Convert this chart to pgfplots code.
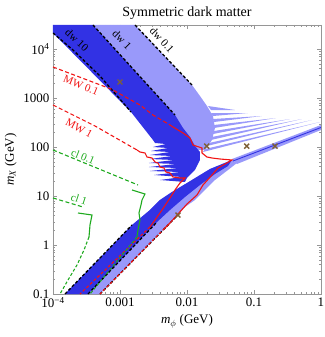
\documentclass[border=0pt]{standalone}
\usepackage{pgfplots}
\pgfplotsset{compat=1.18}
\usepackage{fontspec}
\setmainfont{Liberation Serif}
\definecolor{db}{RGB}{50,50,228}
\definecolor{lb}{RGB}{153,153,250}
\definecolor{brn}{RGB}{125,95,55}
\definecolor{gr}{RGB}{30,170,30}
\definecolor{rd}{RGB}{240,20,20}
\definecolor{frm}{RGB}{150,150,150}
\begin{document}
\begin{tikzpicture}
\begin{axis}[name=ax, scale only axis, width=268pt, height=269pt,
  xmode=log, ymode=log, xmin=1e-4, xmax=1, ymin=0.1, ymax=30890,
  axis line style={frm}, tick style={frm}, major tick length=4pt, minor tick length=2pt,
  tick align=inside,
  xtick={1e-4,1e-3,1e-2,1e-1,1}, xticklabels={10\textsuperscript{−4},0.001,0.01,0.1,1},
  ytick={0.1,1,10,100,1000,10000}, yticklabels={0.1,1,10,100,1000,10\textsuperscript{4}},
  ticklabel style={font=\fontsize{13}{15}\selectfont, text=black},
  title={Symmetric dark matter}, title style={font=\fontsize{14}{16}\selectfont, yshift=-4pt},
  xlabel={\textit{m}\textsubscript{$\phi$} (GeV)}, ylabel={\textit{m}\textsubscript{\textit{X}} (GeV)},
  label style={font=\fontsize{13}{15}\selectfont},
]
% ---------- light blue upper band ----------
\addplot[fill=lb, draw=none] coordinates {(3.954e-4,30890)(1.675e-3,30890)(1.188e-2,1842)(1.563e-2,1098)(1.988e-2,686.6)(2.444e-2,429.2)(2.617e-2,244.2)(2.361e-2,139.0)(1.857e-2,86.87)(9.335e-3,86.87)(6.622e-3,449.9)} -- cycle;
% fan streaks
\addplot[fill=lb, draw=none] coordinates {(2.058e-2,686.6)(2.281e-2,568.9)(5.205e-2,568.9)} -- cycle;
\addplot[fill=lb, draw=none] coordinates {(2.281e-2,494.1)(2.444e-2,429.2)(8.136e-2,494.1)} -- cycle;
\addplot[fill=lb, draw=none] coordinates {(2.444e-2,372.7)(2.529e-2,323.7)(0.1316,429.2)} -- cycle;
\addplot[fill=lb, draw=none] coordinates {(2.529e-2,281.2)(2.529e-2,244.2)(0.2130,390.6)} -- cycle;
\addplot[fill=lb, draw=none] coordinates {(2.529e-2,212.1)(2.444e-2,184.2)(0.3446,372.7)} -- cycle;
\addplot[fill=lb, draw=none] coordinates {(2.361e-2,160.0)(2.281e-2,139.0)(0.5205,372.7)} -- cycle;
\addplot[fill=lb, draw=none] coordinates {(2.130e-2,120.7)(1.988e-2,104.8)(0.7338,355.6)} -- cycle;
\addplot[fill=lb, draw=none] coordinates {(1.857e-2,91.04)(1.733e-2,79.07)(0.9663,323.7)} -- cycle;
% ---------- dark blue upper band with comb ----------
\addplot[fill=db, draw=none] coordinates {(1e-4,21210)(1e-4,30890)(3.954e-4,30890)(6.622e-3,449.9)(8.717e-3,244.2)(1.109e-2,160.0)(1.316e-2,104.8)(1.563e-2,79.07)(1.563e-2,54.28)(1.316e-2,33.93)(1.0e-2,23.30)(9.335e-3,19.31)
 (3.954e-3,21.21)(8.423e-3,24.42)(3.218e-3,26.83)(7.862e-3,30.89)(2.804e-3,32.37)(7.338e-3,37.27)(2.709e-3,39.06)(6.850e-3,44.99)(2.709e-3,47.15)(6.397e-3,54.28)(2.804e-3,56.89)(5.973e-3,65.51)(2.804e-3,68.66)(5.576e-3,79.07)(2.902e-3,82.88)(5.205e-3,95.41)(3.108e-3,100)(4.860e-3,115.1)(3.331e-3,120.7)
 (3.108e-3,139.0)(1.459e-3,517.9)} -- cycle;
% ---------- lower band ----------
\addplot[fill=lb, draw=none] coordinates {(1.511e-4,0.1)(1.511e-3,2.560)(2.804e-3,5.179)(3.954e-3,8.288)(5.973e-3,12.07)(1.0e-2,18.42)(2.204e-2,35.56)(4.696e-2,54.28)(5.576e-2,47.15)(4.092e-2,33.93)(2.617e-2,21.21)(1.857e-2,13.26)(1.316e-2,8.288)(9.335e-3,5.963)(7.338e-3,4.095)(5.029e-4,0.1)} -- cycle;
\addplot[fill=db, draw=none] coordinates {(1.511e-4,0.1)(1.511e-3,2.560)(2.804e-3,5.179)(3.954e-3,8.288)(5.973e-3,12.07)(1.0e-2,18.42)(2.204e-2,35.56)(4.696e-2,54.28)(4.092e-2,40.95)(2.617e-2,28.12)(1.563e-2,16.77)(9.335e-3,9.541)(5.576e-3,5.179)(3.566e-3,2.947)(3.331e-4,0.1)} -- cycle;
% thin continuation to the right
\addplot[fill=lb, draw=none] coordinates {(4.696e-2,56.89)(1,281.2)(1,222.3)(5.576e-2,44.99)} -- cycle;
\addplot[db, line width=0.9pt] coordinates {(4.860e-2,51.79)(1,250.0)};
% ---------- black dashed (dw) ----------
\addplot[black, line width=1.3pt, dash pattern=on 3pt off 2pt] coordinates {(1e-4,21210)(1.988e-4,9541)(5.029e-4,2812)(1.459e-3,517.9)};
\addplot[black, line width=1.3pt, dash pattern=on 3pt off 2pt] coordinates {(3.954e-4,30890)(6.622e-3,449.9)};
\addplot[black, line width=1.3pt, dash pattern=on 3pt off 2pt] coordinates {(1.675e-3,30890)(1.188e-2,1842)};
\addplot[black, line width=1.3pt, dash pattern=on 3pt off 2pt] coordinates {(1.511e-4,0.1)(1.511e-3,2.560)};
\addplot[black, line width=1.3pt, dash pattern=on 3pt off 2pt] coordinates {(3.331e-4,0.1)(3.566e-3,2.947)};
\addplot[black, line width=1.3pt, dash pattern=on 3pt off 2pt] coordinates {(5.029e-4,0.1)(7.338e-3,4.095)};
% ---------- red (MW) ----------
\addplot[rd, line width=1.1pt, dash pattern=on 4pt off 2.5pt] coordinates {(1e-4,4292)(7.338e-4,1527)(1.988e-3,719.7)(3.108e-3,449.9)(5.576e-3,281.2)};
\addplot[rd, line width=1.1pt] coordinates {(5.576e-3,281.2)(6.182e-3,256.0)(8.717e-3,193.1)(1.109e-2,152.7)(1.229e-2,109.8)(1.675e-2,95.41)(1.675e-2,75.45)(1.988e-2,62.50)(2.361e-2,59.63)(3.108e-2,56.89)(4.696e-2,54.28)(3.692e-2,44.99)(2.902e-2,37.27)(2.361e-2,26.83)(1.733e-2,16.77)(1.410e-2,10.48)(1.0e-2,6.866)(7.338e-3,4.292)(5.576e-3,2.812)(4.384e-3,2.023)};
\addplot[rd, line width=1.1pt, dash pattern=on 3pt off 2pt, dash phase=2.5pt] coordinates {(4.384e-3,2.023)(5.029e-4,0.1)};
\addplot[rd, line width=1.1pt, dash pattern=on 4pt off 2.5pt] coordinates {(1e-4,719.7)(4.236e-4,268.3)(1.794e-3,86.87)};
\addplot[rd, line width=1.1pt] coordinates {(1.794e-3,86.87)(1.988e-3,79.07)(2.361e-3,75.45)(2.529e-3,62.50)(3.003e-3,59.63)(3.331e-3,49.41)(3.692e-3,47.15)(3.954e-3,39.06)(4.537e-3,37.27)(4.860e-3,30.89)(5.576e-3,29.47)(6.182e-3,24.42)(7.862e-3,23.30)(9.335e-3,23.30)(7.862e-3,18.42)(6.622e-3,13.26)(5.576e-3,9.104)(4.236e-3,5.179)(3.331e-3,3.237)(2.804e-3,2.330)};
\addplot[rd, line width=1.1pt, dash pattern=on 3pt off 2pt] coordinates {(2.804e-3,2.330)(2.529e-4,0.1)};
% ---------- green (cl) ----------
\addplot[gr, line width=1.1pt, dash pattern=on 4pt off 2.5pt] coordinates {(1e-4,86.87)(1.857e-3,16.77)};
\addplot[gr, line width=1.1pt] coordinates {(1.511e-3,13.26)(2.361e-3,10.98)(2.130e-3,8.288)(2.058e-3,6.551)(1.921e-3,4.499)(1.988e-3,3.237)(1.857e-3,2.023)(1.794e-3,1.457)};
\addplot[gr, line width=1.1pt, dash pattern=on 3pt off 2pt] coordinates {(1.794e-3,1.457)(3.566e-4,0.1)};
\addplot[gr, line width=1.1pt, dash pattern=on 4pt off 2.5pt] coordinates {(1e-4,9.104)(2.804e-4,5.963)};
\addplot[gr, line width=1.1pt] coordinates {(2.361e-4,4.499)(3.820e-4,4.095)(3.566e-4,2.560)(3.446e-4,1.457)};
\addplot[gr, line width=1.1pt, dash pattern=on 3pt off 2pt] coordinates {(3.446e-4,1.457)(2.902e-4,0.7907)(2.281e-4,0.3906)(1.675e-4,0.1931)(1.272e-4,0.1)};
% ---------- markers ----------
\addplot[only marks, mark=x, mark size=3.5pt, mark options={line width=1.4pt, draw=brn}] coordinates {(1e-3,2121)(0.0197,104)(0.0778,104)(0.206,104)(7.34e-3,4.09)};
% ---------- labels ----------
\node[rotate=-43, font=\fontsize{11}{13}\selectfont] at (axis cs:2.281e-4,15270) {dw 10};
\node[rotate=-45, font=\fontsize{11}{13}\selectfont] at (axis cs:1.071e-3,15270) {dw 1};
\node[rotate=-47, font=\fontsize{11}{13}\selectfont] at (axis cs:4.236e-3,15270) {dw 0.1};
\node[rotate=-22, text=rd, font=\fontsize{11}{13}\selectfont] at (axis cs:2.617e-4,1842) {MW 0.1};
\node[rotate=-28, text=rd, font=\fontsize{11}{13}\selectfont] at (axis cs:2.444e-4,244.2) {MW 1};
\node[rotate=-22, text=gr, font=\fontsize{11}{13}\selectfont] at (axis cs:2.804e-4,62.50) {cl 0.1};
\node[rotate=-18, text=gr, font=\fontsize{11}{13}\selectfont] at (axis cs:2.444e-4,8.687) {cl 1};
\end{axis}
\pgfresetboundingbox
\path[use as bounding box] ([shift={(-53pt,-43pt)}]ax.south west) rectangle ([shift={(4pt,25pt)}]ax.north east);
\end{tikzpicture}
\end{document}
